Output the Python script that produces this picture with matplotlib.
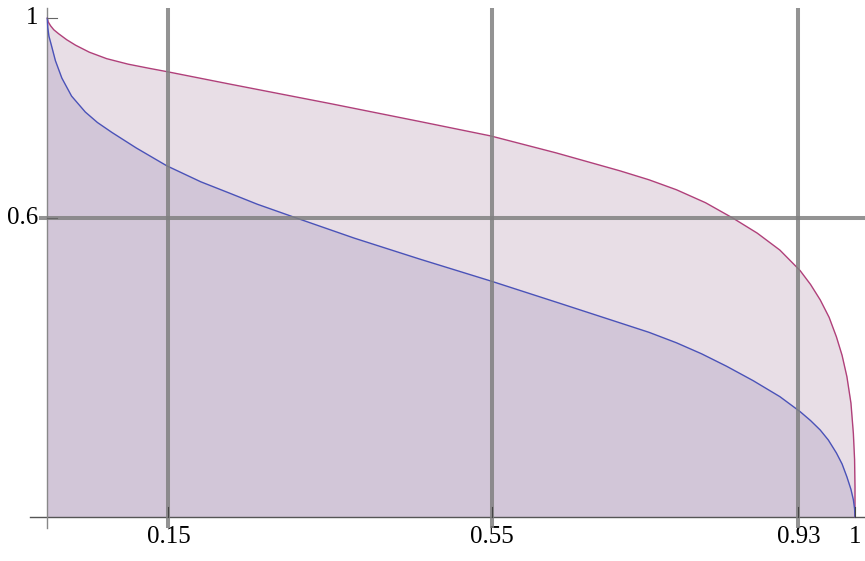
import matplotlib.pyplot as plt

# values
blue_x = [0, 0.0005, 0.002, 0.005, 0.010, 0.018, 0.030, 0.047, 0.062, 0.080, 0.110,
          0.148, 0.190, 0.226, 0.260, 0.309, 0.380, 0.461, 0.549, 0.635, 0.709,
          0.745, 0.779, 0.810, 0.841, 0.874, 0.907, 0.932, 0.945, 0.957, 0.967,
          0.977, 0.984, 0.990, 0.995, 0.998, 0.9995, 1.0]
blue_y = [1, 0.982, 0.964, 0.946, 0.915, 0.880, 0.844, 0.812, 0.791, 0.771, 0.740,
          0.704, 0.672, 0.649, 0.627, 0.599, 0.559, 0.517, 0.473, 0.428, 0.389,
          0.370, 0.349, 0.327, 0.302, 0.273, 0.241, 0.211, 0.193, 0.174, 0.154,
          0.128, 0.106, 0.080, 0.055, 0.034, 0.016, 0]

red_x = [0, 0.001, 0.004, 0.008, 0.014, 0.024, 0.035, 0.052, 0.0735, 0.100, 0.125,
         0.148, 0.226, 0.350, 0.461, 0.549, 0.630, 0.709, 0.745, 0.779, 0.815,
         0.849, 0.879, 0.907, 0.932, 0.945, 0.957, 0.968, 0.977, 0.984, 0.990,
         0.995, 0.998, 0.9995, 1.0, 1.0]
red_y = [1, 0.993, 0.985, 0.977, 0.969, 0.957, 0.946, 0.932, 0.919, 0.908, 0.900,
         0.893, 0.868, 0.829, 0.793, 0.764, 0.730, 0.694, 0.676, 0.656, 0.630,
         0.599, 0.569, 0.535, 0.494, 0.466, 0.435, 0.400, 0.361, 0.324, 0.281,
         0.228, 0.167, 0.115, 0.060, 0]

grid_x = [0.15, 0.55, 0.93]
grid_y = [0.6]
xtick_vals = [0.15, 0.55, 0.93, 1]
xtick_labels = ["0.15", "0.55", "0.93", "1"]
ytick_vals = [1, 0.6]
ytick_labels = ["1", "0.6"]

plt.rcParams["font.family"] = ["Liberation Serif", "DejaVu Serif"]
fig = plt.figure(figsize=(8.65, 5.61), dpi=100)
ax = fig.add_axes([0, 0, 1, 1])
ax.set_xlim(-0.0586, 1.0124)
ax.set_ylim(-0.0887, 1.0367)
ax.axis("off")

# fills to the axis
ax.fill_between(red_x, 0, red_y, color="#e8dee6", lw=0, zorder=1)
ax.fill_between(blue_x, 0, blue_y, color="#d2c6d8", lw=0, zorder=2)

# axes lines
ax.plot([-0.0214, 1.0124], [0, 0], color="#555555", lw=1.0, zorder=3)
ax.plot([0, 0], [-0.0225, 1.0207], color="#888888", lw=1.0, zorder=3)

# curves
ax.plot(red_x, red_y, color="#b0407a", lw=1.0, zorder=4)
ax.plot(blue_x, blue_y, color="#4a52b8", lw=1.0, zorder=4)

# grid lines on top
for gx in grid_x:
    ax.plot([gx, gx], [-0.0225, 1.0207], color="#808080", alpha=0.85, lw=2.9, zorder=5,
            solid_capstyle="butt")
for gy in grid_y:
    ax.plot([-0.0103, 1.0124], [gy, gy], color="#808080", alpha=0.85, lw=2.9, zorder=5,
            solid_capstyle="butt")

# ticks and labels
for xv, lab in zip(xtick_vals, xtick_labels):
    ax.plot([xv, xv], [0, 0.02], color="#444444", lw=0.8, zorder=6)
    ax.text(xv, -0.041, lab, ha="center", va="center", fontsize=18, color="black")
for yv, lab in zip(ytick_vals, ytick_labels):
    ax.plot([0, 0.0124], [yv, yv], color="#666666", lw=0.8, zorder=6)
    ax.text(-0.0115, yv, lab, ha="right", va="center", fontsize=18, color="black")

plt.savefig("out.png", dpi=100)
